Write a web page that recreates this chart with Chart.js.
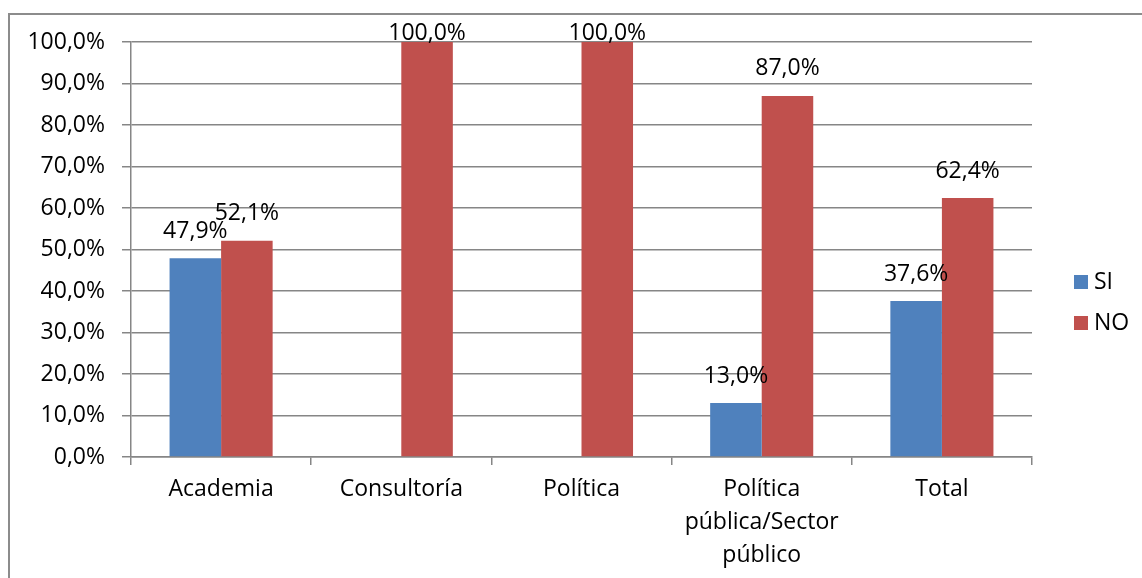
<!DOCTYPE html>
<html>
<head>
<meta charset="utf-8">
<script src="https://cdn.jsdelivr.net/npm/chart.js@4.4.1/dist/chart.umd.min.js"></script>
<style>
    body { margin: 0; overflow: hidden; background: #fff; }
    #wrap { position: relative; width: 1142px; height: 578px; }
    #frame {
        position: absolute; left: 8px; top: 13px; width: 1400px; height: 800px;
        border-top: 2px solid #8c8c8c; border-left: 2px solid #8c8c8c;
        pointer-events: none;
    }
</style>
</head>
<body>
<div id="wrap">
    <canvas id="chart" width="1142" height="578"></canvas>
    <div id="frame"></div>
</div>
<script>
// Data
const categories = [
    'Academia',
    'Consultoría',
    'Política',
    ['Política', 'pública/Sector', 'público'],
    'Total'
];
const seriesNames = ['SI', 'NO'];
const siValues = [0.479, 0, 0, 0.13, 0.376];
const noValues = [0.521, 1.0, 1.0, 0.87, 0.624];
const seriesColors = ['#4F81BD', '#C0504D'];

const FONT = '"Open Sans", sans-serif';
const FONT_SIZE = 23;

function pct(v) {
    return (v * 100).toFixed(1).replace('.', ',') + '%';
}

// value labels above each bar (zeros are not labelled)
const valueLabels = {
    id: 'valueLabels',
    afterDatasetsDraw(chart) {
        const ctx = chart.ctx;
        ctx.save();
        ctx.font = FONT_SIZE + 'px ' + FONT;
        ctx.fillStyle = '#000';
        ctx.textAlign = 'center';
        ctx.textBaseline = 'middle';
        chart.data.datasets.forEach((ds, i) => {
            chart.getDatasetMeta(i).data.forEach((bar, j) => {
                const v = ds.data[j];
                if (!v) return;
                const y = Math.max(bar.y - 27, 33);
                ctx.fillText(pct(v), bar.x, y);
            });
        });
        ctx.restore();
    }
};

// legend on the right, Excel style
const sideLegend = {
    id: 'sideLegend',
    afterDraw(chart) {
        const ctx = chart.ctx;
        ctx.save();
        ctx.font = FONT_SIZE + 'px ' + FONT;
        ctx.textBaseline = 'middle';
        chart.data.datasets.forEach((ds, i) => {
            const y = 282 + i * 41;
            ctx.fillStyle = ds.backgroundColor;
            ctx.fillRect(1074, y - 7, 14, 14);
            ctx.fillStyle = '#000';
            ctx.fillText(ds.label, 1094, y);
        });
        ctx.restore();
    }
};

new Chart(document.getElementById('chart'), {
    type: 'bar',
    data: {
        labels: categories,
        datasets: [
            { label: seriesNames[0], data: siValues, backgroundColor: seriesColors[0] },
            { label: seriesNames[1], data: noValues, backgroundColor: seriesColors[1] }
        ]
    },
    options: {
        responsive: false,
        animation: false,
        devicePixelRatio: 1,
        layout: { padding: { top: 42, right: 110, bottom: 0, left: 0 } },
        datasets: {
            bar: { categoryPercentage: 0.572, barPercentage: 1.0 }
        },
        plugins: {
            legend: { display: false },
            tooltip: { enabled: false }
        },
        scales: {
            x: {
                grid: {
                    offset: true,
                    drawOnChartArea: false,
                    drawTicks: true,
                    tickLength: 8,
                    color: '#868686',
                    lineWidth: 1.5
                },
                border: { color: '#868686', width: 1.5 },
                ticks: {
                    color: '#000',
                    font: { family: FONT, size: FONT_SIZE, lineHeight: 1.43 },
                    padding: 8,
                    maxRotation: 0,
                    autoSkip: false
                },
                afterFit(scale) { scale.height = 121; }
            },
            y: {
                min: 0,
                max: 1,
                ticks: {
                    stepSize: 0.1,
                    color: '#000',
                    font: { family: FONT, size: FONT_SIZE },
                    padding: 17,
                    callback: v => pct(v)
                },
                grid: {
                    color: '#868686',
                    lineWidth: 1.5,
                    tickLength: 9
                },
                border: { color: '#868686', width: 1.5 },
                afterFit(scale) { scale.width = 131; }
            }
        }
    },
    plugins: [valueLabels, sideLegend]
});
</script>
</body>
</html>
